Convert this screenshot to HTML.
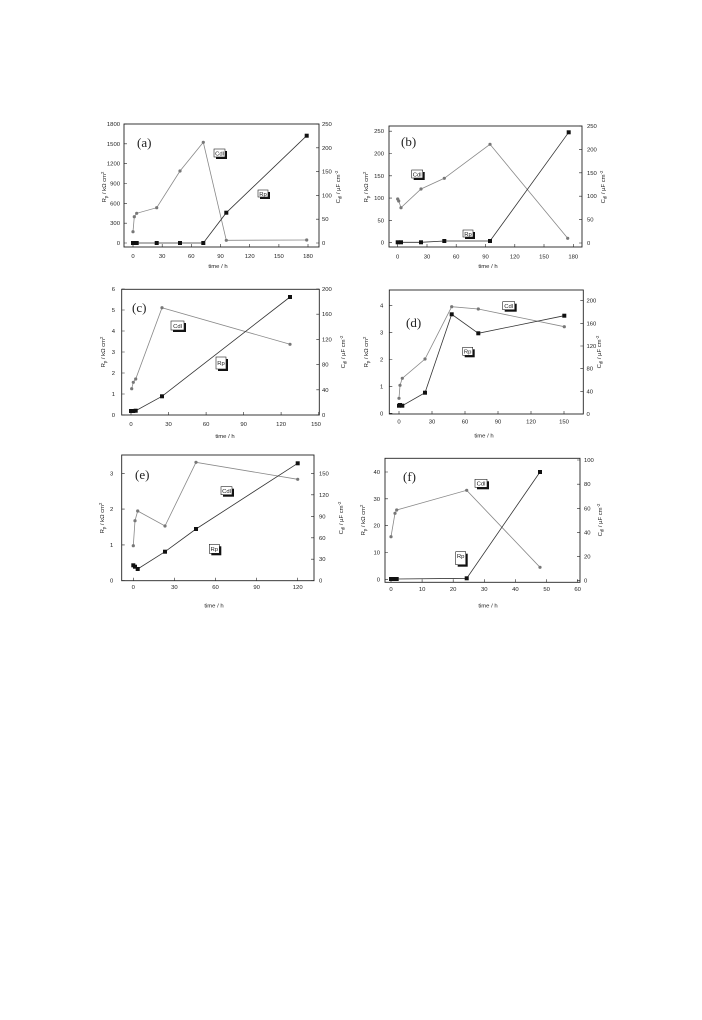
<!DOCTYPE html>
<html><head><meta charset="utf-8"><style>
html,body{margin:0;padding:0;background:#fff}
svg{display:block}
text{font-family:"Liberation Sans",sans-serif;font-size:5.9px;fill:#222}
.t{font-family:"Liberation Serif",serif;font-size:13px}
.fr{fill:none;stroke:#222;stroke-width:0.9}
.c{fill:none;stroke:#888;stroke-width:0.8}
.r{fill:none;stroke:#333;stroke-width:0.8}
.cm{fill:#777}
.rm{fill:#111}
.bx{fill:#fff;stroke:#222;stroke-width:0.6}
.sh{fill:#111}
</style></head><body>
<svg width="702" height="1020" viewBox="0 0 702 1020" xmlns="http://www.w3.org/2000/svg">

<!-- (a) -->
<rect class="fr" x="124" y="124" width="195" height="123"/>
<g stroke="#222" stroke-width="0.6">
<path d="M133 247v-3M162.2 247v-3M191.3 247v-3M220.5 247v-3M249.7 247v-3M278.9 247v-3M308 247v-3"/>
<path d="M124 243h3M124 223.2h3M124 203.3h3M124 183.5h3M124 163.7h3M124 143.8h3M124 124h3"/>
<path d="M319 243h-3M319 219.2h-3M319 195.4h-3M319 171.6h-3M319 147.8h-3M319 124h-3"/>
</g>
<g text-anchor="middle"><text x="133" y="258">0</text><text x="162.2" y="258">30</text><text x="191.3" y="258">60</text><text x="220.5" y="258">90</text><text x="249.7" y="258">120</text><text x="278.9" y="258">150</text><text x="308" y="258">180</text></g>
<g text-anchor="end"><text x="120" y="245">0</text><text x="120" y="225.2">300</text><text x="120" y="205.3">600</text><text x="120" y="185.5">900</text><text x="120" y="165.7">1200</text><text x="120" y="145.8">1500</text><text x="120" y="126">1800</text></g>
<g><text x="322" y="245">0</text><text x="322" y="221.2">50</text><text x="322" y="197.4">100</text><text x="322" y="173.6">150</text><text x="322" y="149.8">200</text><text x="322" y="126">250</text></g>
<text x="218" y="268" text-anchor="middle">time / h</text>
<text transform="translate(106,187) rotate(-90)" text-anchor="middle">R<tspan font-size="4.3" dy="1.5">p</tspan><tspan dy="-1.5"> / kΩ cm</tspan><tspan font-size="4.3" dy="-2">2</tspan></text>
<text transform="translate(340,187) rotate(-90)" text-anchor="middle">C<tspan font-size="4.3" dy="1.5">dl</tspan><tspan dy="-1.5"> / µF cm</tspan><tspan font-size="4.3" dy="-2">-2</tspan></text>
<text class="t" x="137" y="147">(a)</text>
<polyline class="c" points="133,231.7 134.3,216.7 136.7,213.3 156.7,207.7 180,171 203.3,142.3 226.3,240.3 306.7,240"/>
<g class="cm"><circle cx="133" cy="231.7" r="1.6"/><circle cx="134.3" cy="216.7" r="1.6"/><circle cx="136.7" cy="213.3" r="1.6"/><circle cx="156.7" cy="207.7" r="1.6"/><circle cx="180" cy="171" r="1.6"/><circle cx="203.3" cy="142.3" r="1.6"/><circle cx="226.3" cy="240.3" r="1.6"/><circle cx="306.7" cy="240" r="1.6"/></g>
<polyline class="r" points="133,243 136.7,243 156.7,243 180,243 203.3,243 226.3,212.7 306.7,135.7"/>
<g class="rm"><rect x="131" y="241" width="4" height="4"/><rect x="134.7" y="241" width="4" height="4"/><rect x="154.7" y="241" width="4" height="4"/><rect x="178" y="241" width="4" height="4"/><rect x="201.3" y="241" width="4" height="4"/><rect x="224.3" y="210.7" width="4" height="4"/><rect x="304.7" y="133.7" width="4" height="4"/></g>
<rect class="sh" x="216" y="151" width="11" height="8"/><rect class="bx" x="214" y="149" width="11" height="8"/><text x="219.5" y="155.5" text-anchor="middle" font-size="5.5">Cdl</text>
<rect class="sh" x="260" y="192" width="10" height="7"/><rect class="bx" x="258" y="190" width="10" height="7"/><text x="263" y="195.8" text-anchor="middle" font-size="5.5">Rp</text>

<!-- (b) -->
<rect class="fr" x="389" y="126" width="193" height="121"/>
<g stroke="#222" stroke-width="0.6">
<path d="M397.7 247v-3M427 247v-3M456.2 247v-3M485.5 247v-3M514.8 247v-3M544 247v-3M573.3 247v-3"/>
<path d="M389 242.7h3M389 220.4h3M389 198.1h3M389 175.8h3M389 153.5h3M389 131.2h3"/>
<path d="M582 243h-3M582 219.6h-3M582 196.2h-3M582 172.8h-3M582 149.4h-3M582 126h-3"/>
</g>
<g text-anchor="middle"><text x="397.7" y="258.5">0</text><text x="427" y="258.5">30</text><text x="456.2" y="258.5">60</text><text x="485.5" y="258.5">90</text><text x="514.8" y="258.5">120</text><text x="544" y="258.5">150</text><text x="573.3" y="258.5">180</text></g>
<g text-anchor="end"><text x="384" y="244.7">0</text><text x="384" y="222.4">50</text><text x="384" y="200.1">100</text><text x="384" y="177.8">150</text><text x="384" y="155.5">200</text><text x="384" y="133.2">250</text></g>
<g><text x="587" y="245">0</text><text x="587" y="221.6">50</text><text x="587" y="198.2">100</text><text x="587" y="174.8">150</text><text x="587" y="151.4">200</text><text x="587" y="128">250</text></g>
<text x="488" y="268" text-anchor="middle">time / h</text>
<text transform="translate(368,187) rotate(-90)" text-anchor="middle">R<tspan font-size="4.3" dy="1.5">p</tspan><tspan dy="-1.5"> / kΩ cm</tspan><tspan font-size="4.3" dy="-2">2</tspan></text>
<text transform="translate(605,187) rotate(-90)" text-anchor="middle">C<tspan font-size="4.3" dy="1.5">dl</tspan><tspan dy="-1.5"> / µF cm</tspan><tspan font-size="4.3" dy="-2">-2</tspan></text>
<text class="t" x="401" y="146">(b)</text>
<polyline class="c" points="397.7,199 398.7,201 401,207.7 421,189 444.3,178.3 490,144.3 567.7,238.3"/>
<g class="cm"><circle cx="397.7" cy="199" r="1.6"/><circle cx="398.7" cy="201" r="1.6"/><circle cx="401" cy="207.7" r="1.6"/><circle cx="421" cy="189" r="1.6"/><circle cx="444.3" cy="178.3" r="1.6"/><circle cx="490" cy="144.3" r="1.6"/><circle cx="567.7" cy="238.3" r="1.6"/></g>
<polyline class="r" points="397.7,242.3 401,242.3 421,242.3 444.3,241 490,241 568.7,132.3"/>
<g class="rm"><rect x="395.7" y="240.3" width="4" height="4"/><rect x="399" y="240.3" width="4" height="4"/><rect x="419" y="240.3" width="4" height="4"/><rect x="442.3" y="239" width="4" height="4"/><rect x="488" y="239" width="4" height="4"/><rect x="566.7" y="130.3" width="4" height="4"/></g>
<rect class="sh" x="413.7" y="172" width="11" height="8"/><rect class="bx" x="411.7" y="170" width="11" height="8"/><text x="417.2" y="176.5" text-anchor="middle" font-size="5.5">Cdl</text>
<rect class="sh" x="465" y="232" width="10" height="7"/><rect class="bx" x="463" y="230" width="10" height="7"/><text x="468" y="235.8" text-anchor="middle" font-size="5.5">Rp</text>

<!-- (c) -->
<rect class="fr" x="121.7" y="289.3" width="197.6" height="125.7"/>
<g stroke="#222" stroke-width="0.6">
<path d="M131 415v-3M168.5 415v-3M206.1 415v-3M243.6 415v-3M281.1 415v-3M318.7 415v-3"/>
<path d="M121.7 415h3M121.7 394h3M121.7 373h3M121.7 352h3M121.7 331h3M121.7 310h3M121.7 289h3"/>
<path d="M319.3 415h-3M319.3 389.8h-3M319.3 364.6h-3M319.3 339.4h-3M319.3 314.2h-3M319.3 289h-3"/>
</g>
<g text-anchor="middle"><text x="131" y="426">0</text><text x="168.5" y="426">30</text><text x="206.1" y="426">60</text><text x="243.6" y="426">90</text><text x="281.1" y="426">120</text><text x="316" y="426">150</text></g>
<g text-anchor="end"><text x="115" y="417">0</text><text x="115" y="396">1</text><text x="115" y="375">2</text><text x="115" y="354">3</text><text x="115" y="333">4</text><text x="115" y="312">5</text><text x="115" y="291">6</text></g>
<g><text x="322" y="417">0</text><text x="322" y="391.8">40</text><text x="322" y="366.6">80</text><text x="322" y="341.4">120</text><text x="322" y="316.2">160</text><text x="322" y="291">200</text></g>
<text x="225" y="438" text-anchor="middle">time / h</text>
<text transform="translate(105,352) rotate(-90)" text-anchor="middle">R<tspan font-size="4.3" dy="1.5">p</tspan><tspan dy="-1.5"> / kΩ cm</tspan><tspan font-size="4.3" dy="-2">2</tspan></text>
<text transform="translate(345,352) rotate(-90)" text-anchor="middle">C<tspan font-size="4.3" dy="1.5">dl</tspan><tspan dy="-1.5"> / µF cm</tspan><tspan font-size="4.3" dy="-2">-2</tspan></text>
<text class="t" x="132" y="312">(c)</text>
<polyline class="c" points="131.7,388.7 133.3,382.3 135.7,379 162,307.7 290,344.3"/>
<g class="cm"><circle cx="131.7" cy="388.7" r="1.6"/><circle cx="133.3" cy="382.3" r="1.6"/><circle cx="135.7" cy="379" r="1.6"/><circle cx="162" cy="307.7" r="1.6"/><circle cx="290" cy="344.3" r="1.6"/></g>
<polyline class="r" points="131,411 133.3,411 135.7,410.7 162,396.3 290,297"/>
<g class="rm"><rect x="129" y="409" width="4" height="4"/><rect x="131.3" y="409" width="4" height="4"/><rect x="133.7" y="408.7" width="4" height="4"/><rect x="160" y="394.3" width="4" height="4"/><rect x="288" y="295" width="4" height="4"/></g>
<rect class="sh" x="173" y="323" width="13" height="9"/><rect class="bx" x="171" y="321" width="13" height="9"/><text x="177.5" y="328" text-anchor="middle" font-size="5.5">Cdl</text>
<rect class="sh" x="218" y="359" width="10" height="12"/><rect class="bx" x="216" y="357" width="10" height="12"/><text x="221" y="365" text-anchor="middle" font-size="5.5">Rp</text>

<!-- (d) -->
<rect class="fr" x="389.3" y="290" width="194" height="124"/>
<g stroke="#222" stroke-width="0.6">
<path d="M399 414v-3M432 414v-3M465 414v-3M498 414v-3M531 414v-3M564 414v-3"/>
<path d="M389.3 413.3h3M389.3 386.4h3M389.3 359.5h3M389.3 332.6h3M389.3 305.7h3"/>
<path d="M583.3 414h-3M583.3 391.3h-3M583.3 368.7h-3M583.3 346h-3M583.3 323.4h-3M583.3 300.7h-3"/>
</g>
<g text-anchor="middle"><text x="399" y="423.5">0</text><text x="432" y="423.5">30</text><text x="465" y="423.5">60</text><text x="498" y="423.5">90</text><text x="531" y="423.5">120</text><text x="564" y="423.5">150</text></g>
<g text-anchor="end"><text x="383.3" y="415.3">0</text><text x="383.3" y="388.4">1</text><text x="383.3" y="361.5">2</text><text x="383.3" y="334.6">3</text><text x="383.3" y="307.7">4</text></g>
<g><text x="586.5" y="416">0</text><text x="586.5" y="393.3">40</text><text x="586.5" y="370.7">80</text><text x="586.5" y="348">120</text><text x="586.5" y="325.4">160</text><text x="586.5" y="302.7">200</text></g>
<text x="484" y="437.5" text-anchor="middle">time / h</text>
<text transform="translate(368,352) rotate(-90)" text-anchor="middle">R<tspan font-size="4.3" dy="1.5">p</tspan><tspan dy="-1.5"> / kΩ cm</tspan><tspan font-size="4.3" dy="-2">2</tspan></text>
<text transform="translate(601,352) rotate(-90)" text-anchor="middle">C<tspan font-size="4.3" dy="1.5">dl</tspan><tspan dy="-1.5"> / µF cm</tspan><tspan font-size="4.3" dy="-2">-2</tspan></text>
<text class="t" x="406" y="327">(d)</text>
<polyline class="c" points="399,398.3 400,385.3 402.3,378.3 425,359 451.7,306.7 478.3,309 564.3,326.7"/>
<g class="cm"><circle cx="399" cy="398.3" r="1.6"/><circle cx="400" cy="385.3" r="1.6"/><circle cx="402.3" cy="378.3" r="1.6"/><circle cx="425" cy="359" r="1.6"/><circle cx="451.7" cy="306.7" r="1.6"/><circle cx="478.3" cy="309" r="1.6"/><circle cx="564.3" cy="326.7" r="1.6"/></g>
<polyline class="r" points="399,405.7 400,405 402.3,405.7 425,392.7 451.7,314.3 478.3,333.3 564.3,315.7"/>
<g class="rm"><rect x="397" y="403.7" width="4" height="4"/><rect x="398" y="403" width="4" height="4"/><rect x="400.3" y="403.7" width="4" height="4"/><rect x="423" y="390.7" width="4" height="4"/><rect x="449.7" y="312.3" width="4" height="4"/><rect x="476.3" y="331.3" width="4" height="4"/><rect x="562.3" y="313.7" width="4" height="4"/></g>
<rect class="sh" x="504.7" y="303.7" width="12" height="8"/><rect class="bx" x="502.7" y="301.7" width="12" height="8"/><text x="508.7" y="308" text-anchor="middle" font-size="5.5">Cdl</text>
<rect class="sh" x="464.7" y="349.3" width="10" height="8"/><rect class="bx" x="462.7" y="347.3" width="10" height="8"/><text x="467.7" y="353.5" text-anchor="middle" font-size="5.5">Rp</text>

<!-- (e) -->
<rect class="fr" x="121.7" y="455" width="192.3" height="125.7"/>
<g stroke="#222" stroke-width="0.6">
<path d="M133.3 580.7v-3M174.4 580.7v-3M215.5 580.7v-3M256.6 580.7v-3M297.7 580.7v-3"/>
<path d="M121.7 580.7h3M121.7 544.9h3M121.7 509.1h3M121.7 473.3h3"/>
<path d="M314 580.7h-3M314 559.2h-3M314 537.8h-3M314 516.3h-3M314 494.8h-3M314 473.3h-3"/>
</g>
<g text-anchor="middle"><text x="133.3" y="589">0</text><text x="174.4" y="589">30</text><text x="215.5" y="589">60</text><text x="256.6" y="589">90</text><text x="297.7" y="589">120</text></g>
<g text-anchor="end"><text x="113.3" y="582.7">0</text><text x="113.3" y="546.9">1</text><text x="113.3" y="511.1">2</text><text x="113.3" y="475.3">3</text></g>
<g><text x="319" y="582.7">0</text><text x="319" y="561.2">30</text><text x="319" y="539.8">60</text><text x="319" y="518.3">90</text><text x="319" y="496.8">120</text><text x="319" y="475.3">150</text></g>
<text x="214" y="607.5" text-anchor="middle">time / h</text>
<text transform="translate(104,518) rotate(-90)" text-anchor="middle">R<tspan font-size="4.3" dy="1.5">p</tspan><tspan dy="-1.5"> / kΩ cm</tspan><tspan font-size="4.3" dy="-2">2</tspan></text>
<text transform="translate(343,518) rotate(-90)" text-anchor="middle">C<tspan font-size="4.3" dy="1.5">dl</tspan><tspan dy="-1.5"> / µF cm</tspan><tspan font-size="4.3" dy="-2">-2</tspan></text>
<text class="t" x="135" y="479">(e)</text>
<polyline class="c" points="133.3,545.7 135,520.7 137.7,511 165,526 196,462.3 297.7,479.3"/>
<g class="cm"><circle cx="133.3" cy="545.7" r="1.6"/><circle cx="135" cy="520.7" r="1.6"/><circle cx="137.7" cy="511" r="1.6"/><circle cx="165" cy="526" r="1.6"/><circle cx="196" cy="462.3" r="1.6"/><circle cx="297.7" cy="479.3" r="1.6"/></g>
<polyline class="r" points="133.3,565.3 135,566.7 137.7,569 165,551.7 196,529 297.7,463.3"/>
<g class="rm"><rect x="131.3" y="563.3" width="4" height="4"/><rect x="133" y="564.7" width="4" height="4"/><rect x="135.7" y="567" width="4" height="4"/><rect x="163" y="549.7" width="4" height="4"/><rect x="194" y="527" width="4" height="4"/><rect x="295.7" y="461.3" width="4" height="4"/></g>
<rect class="sh" x="223" y="488.7" width="11" height="8"/><rect class="bx" x="221" y="486.7" width="11" height="8"/><text x="226.5" y="493" text-anchor="middle" font-size="5.5">Cdl</text>
<rect class="sh" x="211.3" y="546.3" width="10" height="9"/><rect class="bx" x="209.3" y="544.3" width="10" height="9"/><text x="214.3" y="551" text-anchor="middle" font-size="5.5">Rp</text>

<!-- (f) -->
<rect class="fr" x="385" y="458.3" width="195" height="124"/>
<g stroke="#222" stroke-width="0.6">
<path d="M391 582.3v-3M422.1 582.3v-3M453.2 582.3v-3M484.3 582.3v-3M515.4 582.3v-3M546.6 582.3v-3M577.7 582.3v-3"/>
<path d="M385 579.3h3M385 552.5h3M385 525.7h3M385 498.8h3M385 472h3"/>
<path d="M580 580.7h-3M580 556.6h-3M580 532.4h-3M580 508.3h-3M580 484.2h-3M580 460h-3"/>
</g>
<g text-anchor="middle"><text x="391" y="591">0</text><text x="422.1" y="591">10</text><text x="453.2" y="591">20</text><text x="484.3" y="591">30</text><text x="515.4" y="591">40</text><text x="546.6" y="591">50</text><text x="577.7" y="591">60</text></g>
<g text-anchor="end"><text x="380" y="581.3">0</text><text x="380" y="554.5">10</text><text x="380" y="527.7">20</text><text x="380" y="500.8">30</text><text x="380" y="474">40</text></g>
<g><text x="584" y="582.7">0</text><text x="584" y="558.6">20</text><text x="584" y="534.4">40</text><text x="584" y="510.3">60</text><text x="584" y="486.2">80</text><text x="584" y="462">100</text></g>
<text x="488" y="607.5" text-anchor="middle">time / h</text>
<text transform="translate(365,520) rotate(-90)" text-anchor="middle">R<tspan font-size="4.3" dy="1.5">p</tspan><tspan dy="-1.5"> / kΩ cm</tspan><tspan font-size="4.3" dy="-2">2</tspan></text>
<text transform="translate(602,520) rotate(-90)" text-anchor="middle">C<tspan font-size="4.3" dy="1.5">dl</tspan><tspan dy="-1.5"> / µF cm</tspan><tspan font-size="4.3" dy="-2">-2</tspan></text>
<text class="t" x="403" y="481">(f)</text>
<polyline class="c" points="391,536.7 395,513.3 396.7,510 466.7,490.3 540,567.3"/>
<g class="cm"><circle cx="391" cy="536.7" r="1.6"/><circle cx="395" cy="513.3" r="1.6"/><circle cx="396.7" cy="510" r="1.6"/><circle cx="466.7" cy="490.3" r="1.6"/><circle cx="540" cy="567.3" r="1.6"/></g>
<polyline class="r" points="391,579 396.7,579 466.7,578.3 540,472"/>
<g class="rm"><rect x="389" y="577" width="4" height="4"/><rect x="392" y="577" width="4" height="4"/><rect x="394.7" y="577" width="4" height="4"/><rect x="464.7" y="576.3" width="4" height="4"/><rect x="538" y="470" width="4" height="4"/></g>
<rect class="sh" x="477" y="481.3" width="12" height="8"/><rect class="bx" x="475" y="479.3" width="12" height="8"/><text x="481" y="485.6" text-anchor="middle" font-size="5.5">Cdl</text>
<rect class="sh" x="457.7" y="553.7" width="10" height="13"/><rect class="bx" x="455.7" y="551.7" width="10" height="13"/><text x="460.7" y="558" text-anchor="middle" font-size="5.5">Rp</text>
</svg>
</body></html>
